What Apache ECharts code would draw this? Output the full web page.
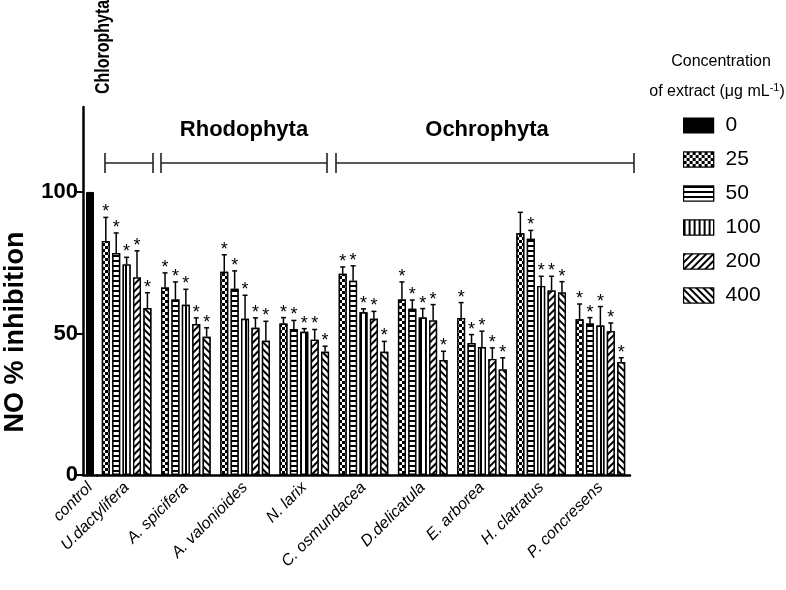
<!DOCTYPE html>
<html>
<head>
<meta charset="utf-8">
<script src="https://cdn.jsdelivr.net/npm/echarts@6/dist/echarts.min.js"></script>
<style>
  html, body { margin: 0; padding: 0; background: #fff; }
  #main { width: 786px; height: 590px; }
</style>
</head>
<body>
<div id="main"></div>
<script>
var categories = ['U.dactylifera', 'A. spicifera', 'A. valonioides', 'N. larix', 'C. osmundacea',
                  'D.delicatula', 'E. arborea', 'H. clatratus', 'P. concresens'];
var concentrations = ['0', '25', '50', '100', '200', '400'];
var controlValue = [100];
var mean25  = [82.7, 66.2, 71.8, 53.5, 71.1, 62.0, 55.5, 85.4, 55.0];
var mean50  = [78.4, 62.0, 65.8, 51.6, 68.6, 58.7, 46.6, 83.5, 53.5];
var mean100 = [74.4, 60.1, 55.2, 50.6, 57.5, 55.6, 45.2, 66.8, 52.8];
var mean200 = [69.8, 53.3, 52.0, 47.8, 55.2, 54.6, 41.0, 65.2, 50.8];
var mean400 = [59.0, 48.8, 47.4, 43.5, 43.5, 40.6, 37.3, 64.5, 39.9];
var sd25  = [8.3, 5.2, 6.0, 2.1, 2.4, 6.2, 5.4, 7.4, 5.4];
var sd50  = [7.1, 6.2, 6.3, 3.0, 5.3, 3.1, 3.0, 2.9, 2.1];
var sd100 = [2.5, 5.5, 8.3, 1.1, 1.2, 3.2, 5.6, 3.4, 6.7];
var sd200 = [9.4, 2.2, 3.5, 3.6, 2.6, 5.6, 3.9, 5.0, 2.9];
var sd400 = [5.4, 3.2, 6.9, 2.0, 3.7, 3.1, 4.1, 3.8, 1.5];
// 1 = significant (*)
var sig25  = [1, 1, 1, 1, 1, 1, 1, 0, 1];
var sig50  = [1, 1, 1, 1, 1, 1, 1, 1, 1];
var sig100 = [1, 1, 1, 1, 1, 1, 1, 1, 1];
var sig200 = [1, 1, 1, 1, 1, 1, 1, 1, 1];
var sig400 = [1, 1, 1, 1, 1, 1, 1, 1, 1];
var yTicks = [0, 50, 100];

var FONT = 'Liberation Sans, Arial, sans-serif';
var BAR_W = 8, BAR_PITCH = 10.4;

var decals = {
  '25':  { symbol: 'rect', symbolSize: 1, dashArrayX: [[3, 3], [0, 3, 3, 0]], dashArrayY: [3, 0], color: '#000', backgroundColor: '#fff' },
  '50':  { symbol: 'rect', symbolSize: 1, dashArrayX: [1, 0], dashArrayY: [1.2, 2.6], color: '#000', backgroundColor: '#fff' },
  '100': { symbol: 'rect', symbolSize: 1, dashArrayX: [1.2, 2.6], dashArrayY: [1, 0], color: '#000', backgroundColor: '#fff' },
  '200': { symbol: 'rect', symbolSize: 1, dashArrayX: [1, 0], dashArrayY: [1.2, 2.3], rotation: -Math.PI / 4, color: '#000', backgroundColor: '#fff' },
  '400': { symbol: 'rect', symbolSize: 1, dashArrayX: [1, 0], dashArrayY: [1.2, 2.3], rotation: Math.PI / 4, color: '#000', backgroundColor: '#fff' }
};

var groups = [
  { name: '25',  mean: mean25,  sd: sd25,  sig: sig25 },
  { name: '50',  mean: mean50,  sd: sd50,  sig: sig50 },
  { name: '100', mean: mean100, sd: sd100, sig: sig100 },
  { name: '200', mean: mean200, sd: sd200, sig: sig200 },
  { name: '400', mean: mean400, sd: sd400, sig: sig400 }
];

function errorRenderer(slot) {
  return function (params, api) {
    var x = api.coord([api.value(0), 0])[0] + (slot - 2) * BAR_PITCH;
    var yMean = api.coord([api.value(0), api.value(1)])[1];
    var yTop = api.coord([api.value(0), api.value(1) + api.value(2)])[1];
    var children = [
      { type: 'line', shape: { x1: x, y1: yMean, x2: x, y2: yTop }, style: { stroke: '#000', lineWidth: 1.5 } },
      { type: 'line', shape: { x1: x - 2.5, y1: yTop, x2: x + 2.5, y2: yTop }, style: { stroke: '#000', lineWidth: 1.5 } }
    ];
    if (api.value(3)) {
      children.push({ type: 'text', style: { text: '*', x: x, y: yTop - 5, align: 'center', verticalAlign: 'middle',
        font: '18px ' + FONT, fill: '#000' } });
    }
    return { type: 'group', children: children };
  };
}

var series = [{
  name: '0', type: 'bar', xAxisIndex: 0, yAxisIndex: 0, barWidth: BAR_W,
  data: controlValue, itemStyle: { color: '#000', borderColor: '#000', borderWidth: 1 }
}];
groups.forEach(function (g, i) {
  series.push({
    name: g.name, type: 'bar', xAxisIndex: 1, yAxisIndex: 1, barWidth: BAR_W, barGap: '30%',
    data: g.mean,
    itemStyle: { color: '#fff', borderColor: '#000', borderWidth: 1.4, decal: decals[g.name] }
  });
});
groups.forEach(function (g, i) {
  series.push({
    name: g.name + ' err', type: 'custom', xAxisIndex: 1, yAxisIndex: 1, z: 5,
    renderItem: errorRenderer(i),
    data: g.mean.map(function (m, k) { return [k, m, g.sd[k], g.sig[k]]; })
  });
});

var axisLineStyle = { lineStyle: { color: '#000', width: 2.5 } };
var xLabel = { rotate: 45, fontSize: 16, fontStyle: 'italic', fontFamily: FONT, color: '#000', margin: 10, interval: 0 };
var xTick = { alignWithLabel: true, length: 7, lineStyle: { color: '#000', width: 2 } };

var option = {
  animation: false,
  backgroundColor: '#fff',
  grid: [
    { left: 83, width: 14, top: 107, bottom: 115 },
    { left: 97, right: 156, top: 107, bottom: 115 }
  ],
  xAxis: [
    { type: 'category', gridIndex: 0, data: ['control'], axisLine: axisLineStyle, axisTick: xTick, axisLabel: xLabel },
    { type: 'category', gridIndex: 1, data: categories, axisLine: axisLineStyle, axisTick: xTick, axisLabel: xLabel }
  ],
  yAxis: [
    { type: 'value', gridIndex: 0, min: 0, max: 130, interval: 50, splitLine: { show: false },
      axisLine: { show: true, lineStyle: { color: '#000', width: 2.5 } },
      axisTick: { show: true, length: 6, customValues: yTicks, lineStyle: { color: '#000', width: 2 } },
      axisLabel: { customValues: yTicks, fontSize: 22, fontWeight: 'bold', fontFamily: FONT, color: '#000', margin: 5 } },
    { type: 'value', gridIndex: 1, min: 0, max: 130, show: false, splitLine: { show: false } }
  ],
  legend: {
    data: concentrations, orient: 'vertical', left: 678, top: 110, icon: 'rect',
    itemWidth: 30, itemHeight: 15, itemGap: 13,
    itemStyle: { borderColor: '#000', borderWidth: 1.2 },
    textStyle: { fontSize: 21, fontFamily: FONT, color: '#000', padding: [0, 0, 0, 7] }
  },
  graphic: [
    { type: 'text', style: { text: 'NO % inhibition', font: 'bold 27px ' + FONT, fill: '#000',
      x: 0, y: 0, align: 'center', verticalAlign: 'middle' }, x: 16, y: 332, rotation: Math.PI / 2 },
    { type: 'text', style: { text: 'Concentration', font: '16px ' + FONT, fill: '#000', x: 721, y: 62, align: 'center', verticalAlign: 'middle' } },
    { type: 'text', style: { text: 'of extract (\u03bcg mL{sup|-1})', font: '16px ' + FONT, fill: '#000', x: 717, y: 92, align: 'center', verticalAlign: 'middle',
      rich: { sup: { fontSize: 11, verticalAlign: 'top', padding: [0, 0, 8, 0] } } } },
    { type: 'text', style: { text: 'Chlorophyta', font: 'bold 20px ' + FONT, fill: '#000', x: 0, y: 0, align: 'center', verticalAlign: 'middle' },
      x: 103, y: 47, rotation: Math.PI / 2, scaleX: 0.8 },
    { type: 'text', style: { text: 'Rhodophyta', font: 'bold 22px ' + FONT, fill: '#000', x: 244, y: 130, align: 'center', verticalAlign: 'middle' } },
    { type: 'text', style: { text: 'Ochrophyta', font: 'bold 22px ' + FONT, fill: '#000', x: 487, y: 130, align: 'center', verticalAlign: 'middle' } }
  ],
  series: series
};

// phylum brackets: [left, right] pixel span
var brackets = [[105, 153], [161, 327], [336, 634]];
brackets.forEach(function (b) {
  var st = { stroke: '#222', lineWidth: 1.6 };
  option.graphic.push({ type: 'line', shape: { x1: b[0], y1: 163, x2: b[1], y2: 163 }, style: st });
  option.graphic.push({ type: 'line', shape: { x1: b[0], y1: 153, x2: b[0], y2: 173 }, style: st });
  option.graphic.push({ type: 'line', shape: { x1: b[1], y1: 153, x2: b[1], y2: 173 }, style: st });
});

var chart = echarts.init(document.getElementById('main'));
chart.setOption(option);
</script>
</body>
</html>
